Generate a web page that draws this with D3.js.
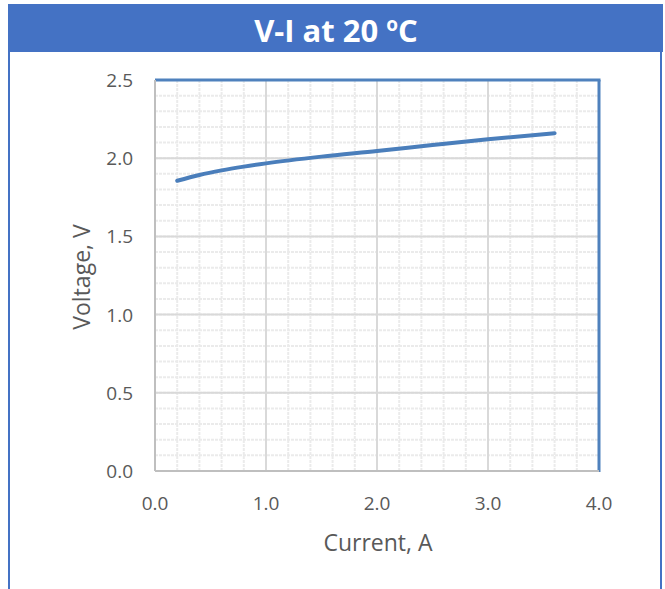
<!DOCTYPE html>
<head>
  <meta charset="utf-8">
  <script src="https://d3js.org/d3.v7.min.js"></script>
  <style>
    body { margin:0; background:#fff; }
    text { font-family: "Open Sans", sans-serif; }
  </style>
</head>
<body>
<script>
  // data
  var current = [0.2, 0.4, 0.6, 0.8, 1.0, 1.5, 2.0, 2.5, 3.0, 3.6];
  var voltage = [1.856, 1.893, 1.922, 1.946, 1.967, 2.010, 2.046, 2.084, 2.121, 2.160];
  var xTicks = [0, 1, 2, 3, 4];
  var yTicks = [0, 0.5, 1.0, 1.5, 2.0, 2.5];

  var W = 665, H = 589;
  var plot = {left: 155, right: 599, top: 80, bottom: 471};

  var svg = d3.select("body").append("svg")
    .attr("width", W).attr("height", H);

  // outer frame
  svg.append("line").attr("x1", 9).attr("x2", 9).attr("y1", 50).attr("y2", H)
    .attr("stroke", "#4472c4").attr("stroke-width", 2);
  svg.append("line").attr("x1", 661).attr("x2", 661).attr("y1", 50).attr("y2", H)
    .attr("stroke", "#4472c4").attr("stroke-width", 2);
  svg.append("rect").attr("x", 8).attr("y", 4).attr("width", 655).attr("height", 48)
    .attr("fill", "#4472c4");

  var title = svg.append("text")
    .attr("x", 336).attr("y", 42)
    .attr("text-anchor", "middle")
    .attr("fill", "#fff")
    .style("font-size", "31px").style("font-weight", "bold");
  title.append("tspan").text("V-I at 20 ");
  title.append("tspan").attr("dy", -11).style("font-size", "19px").text("o");
  title.append("tspan").attr("dy", 11).text("C");

  var x = d3.scaleLinear().domain([0, 4]).range([plot.left, plot.right]);
  var y = d3.scaleLinear().domain([0, 2.5]).range([plot.bottom, plot.top]);

  var g = svg.append("g");

  // minor grid
  g.selectAll(".minx").data(d3.range(1, 20).map(function(i){ return i * 0.2; }))
    .enter().append("line")
    .attr("x1", function(d){ return x(d); }).attr("x2", function(d){ return x(d); })
    .attr("y1", plot.top).attr("y2", plot.bottom)
    .attr("stroke", "#ebebeb").attr("stroke-width", 2).attr("stroke-dasharray", "3,1");
  g.selectAll(".miny").data(d3.range(1, 25).map(function(i){ return i * 0.1; }))
    .enter().append("line")
    .attr("y1", function(d){ return y(d); }).attr("y2", function(d){ return y(d); })
    .attr("x1", plot.left).attr("x2", plot.right)
    .attr("stroke", "#ebebeb").attr("stroke-width", 2).attr("stroke-dasharray", "3,1");

  // major grid
  g.selectAll(".majx").data([1, 2, 3]).enter().append("line")
    .attr("x1", function(d){ return x(d); }).attr("x2", function(d){ return x(d); })
    .attr("y1", plot.top).attr("y2", plot.bottom)
    .attr("stroke", "#d9d9d9").attr("stroke-width", 2);
  g.selectAll(".majy").data([0.5, 1.0, 1.5, 2.0]).enter().append("line")
    .attr("y1", function(d){ return y(d); }).attr("y2", function(d){ return y(d); })
    .attr("x1", plot.left).attr("x2", plot.right)
    .attr("stroke", "#d9d9d9").attr("stroke-width", 2);

  // plot border: blue top/right, grey axes left/bottom
  g.append("line").attr("x1", plot.left).attr("x2", plot.right + 1.5)
    .attr("y1", plot.top).attr("y2", plot.top)
    .attr("stroke", "#4f81bd").attr("stroke-width", 3);
  g.append("line").attr("x1", plot.right).attr("x2", plot.right)
    .attr("y1", plot.top).attr("y2", plot.bottom + 1)
    .attr("stroke", "#4f81bd").attr("stroke-width", 3);
  g.append("line").attr("x1", plot.left).attr("x2", plot.left)
    .attr("y1", plot.top).attr("y2", plot.bottom)
    .attr("stroke", "#bfbfbf").attr("stroke-width", 2);
  g.append("line").attr("x1", plot.left).attr("x2", plot.right)
    .attr("y1", plot.bottom).attr("y2", plot.bottom)
    .attr("stroke", "#bfbfbf").attr("stroke-width", 2);

  // tick labels
  svg.selectAll(".xt").data(xTicks).enter().append("text")
    .attr("x", function(d){ return x(d); }).attr("y", 510)
    .attr("text-anchor", "middle").attr("fill", "#595959")
    .style("font-size", "19px")
    .text(function(d){ return d3.format(".1f")(d); });
  svg.selectAll(".yt").data(yTicks).enter().append("text")
    .attr("x", 133).attr("y", function(d){ return y(d) + 7; })
    .attr("text-anchor", "end").attr("fill", "#595959")
    .style("font-size", "19px")
    .text(function(d){ return d3.format(".1f")(d); });

  // axis titles
  svg.append("text").attr("x", 378).attr("y", 551)
    .attr("text-anchor", "middle").attr("fill", "#595959")
    .style("font-size", "23px").text("Current, A");
  svg.append("text")
    .attr("transform", "translate(90,277) rotate(-90)")
    .attr("text-anchor", "middle").attr("fill", "#595959")
    .style("font-size", "23px").text("Voltage, V");

  // V-I curve
  var pts = current.map(function(c, i){ return [c, voltage[i]]; });
  var line = d3.line()
    .x(function(d){ return x(d[0]); })
    .y(function(d){ return y(d[1]); })
    .curve(d3.curveMonotoneX);
  svg.append("path").datum(pts)
    .attr("d", line)
    .attr("fill", "none")
    .attr("stroke", "#4a7ebb")
    .attr("stroke-width", 4)
    .attr("stroke-linecap", "round");
</script>
</body>
